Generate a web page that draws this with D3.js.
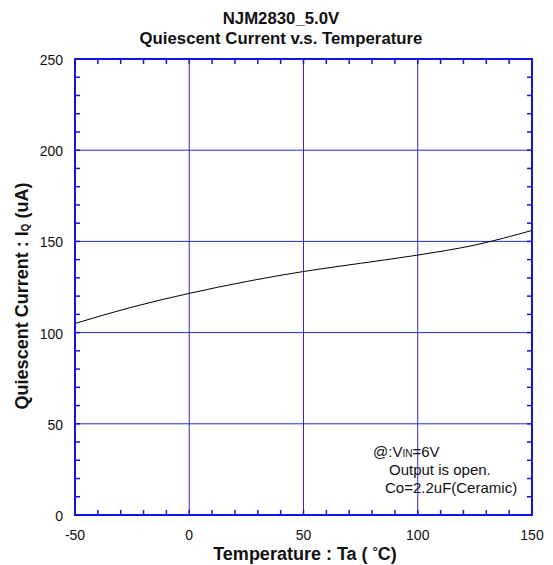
<!DOCTYPE html>
<html><head><meta charset="utf-8">
<script src="https://cdn.jsdelivr.net/npm/d3@7"></script>
<style>body{margin:0;background:#fff}svg{display:block}text{font-family:Arial,"Liberation Sans",sans-serif}</style>
</head><body>
<svg id="c" width="553" height="565"></svg>
<script>
const temps = [-50, -25, 0, 25, 50, 75, 100, 125, 150];
const iq = [105, 114, 121.5, 128, 133.5, 138, 142.5, 148, 156];
const xTicks = [-50, 0, 50, 100, 150];
const yTicks = [0, 50, 100, 150, 200, 250];
const titleLines = ["NJM2830_5.0V", "Quiescent Current v.s. Temperature"];

const svg = d3.select("#c");
const L = 75, R = 532, T = 59, B = 515;
const x = d3.scaleLinear().domain([-50, 150]).range([L, R]);
const y = d3.scaleLinear().domain([0, 250]).range([B, T]);
const blue = "#1414e0";

// gridlines
const g = svg.append("g");
g.selectAll(".vx").data(xTicks.slice(1, -1)).enter().append("line")
  .attr("x1", d => x(d)).attr("x2", d => x(d)).attr("y1", T).attr("y2", B)
  .attr("stroke", "#2a2ad0").attr("stroke-width", 1);
g.selectAll(".hy").data(yTicks.slice(1, -1)).enter().append("line")
  .attr("y1", d => y(d)).attr("y2", d => y(d)).attr("x1", L).attr("x2", R)
  .attr("stroke", "#2a2ad0").attr("stroke-width", 1);

// minor ticks (inward, all sides)
const xMinor = d3.range(-50, 151, 10);
const yMinor = d3.range(0, 251, 10);
const tl = 5;
xMinor.forEach(v => {
  g.append("line").attr("x1", x(v)).attr("x2", x(v)).attr("y1", B).attr("y2", B - tl).attr("stroke", blue).attr("stroke-width", 1.5);
  g.append("line").attr("x1", x(v)).attr("x2", x(v)).attr("y1", T).attr("y2", T + tl).attr("stroke", blue).attr("stroke-width", 1.5);
});
yMinor.forEach(v => {
  g.append("line").attr("y1", y(v)).attr("y2", y(v)).attr("x1", L).attr("x2", L + tl).attr("stroke", blue).attr("stroke-width", 1.5);
  g.append("line").attr("y1", y(v)).attr("y2", y(v)).attr("x1", R).attr("x2", R - tl).attr("stroke", blue).attr("stroke-width", 1.5);
});

// frame
svg.append("rect").attr("x", L).attr("y", T).attr("width", R - L).attr("height", B - T)
  .attr("fill", "none").attr("stroke", blue).attr("stroke-width", 2);

// data line
svg.append("path").datum(temps.map((t, i) => [t, iq[i]]))
  .attr("d", d3.line().x(d => x(d[0])).y(d => y(d[1])).curve(d3.curveMonotoneX))
  .attr("fill", "none").attr("stroke", "#000").attr("stroke-width", 1);

// tick labels
svg.selectAll(".xl").data(xTicks).enter().append("text")
  .attr("x", d => x(d)).attr("y", 540).attr("text-anchor", "middle")
  .attr("font-size", 14).attr("fill", "#111").text(d => d);
svg.selectAll(".yl").data(yTicks).enter().append("text")
  .attr("x", 63).attr("y", d => y(d) + 6).attr("text-anchor", "end")
  .attr("font-size", 14).attr("fill", "#111").text(d => d);

// title
svg.selectAll(".tt").data(titleLines).enter().append("text")
  .attr("x", 281).attr("y", (d, i) => 23.5 + i * 20).attr("text-anchor", "middle")
  .attr("font-size", 16.8).attr("font-weight", "bold").attr("fill", "#111").text(d => d);

// x axis title
const xt = svg.append("text").attr("x", 305).attr("y", 560).attr("text-anchor", "middle")
  .attr("font-size", 18).attr("font-weight", "bold").attr("fill", "#111");
xt.append("tspan").text("Temperature : Ta ( ");
xt.append("tspan").attr("dy", -4).attr("font-size", 13).text("°");
xt.append("tspan").attr("dy", 4).text("C)");

// y axis title
const yt = svg.append("text").attr("transform", "translate(28,296) rotate(-90)").attr("text-anchor", "middle")
  .attr("font-size", 18).attr("font-weight", "bold").attr("fill", "#111");
yt.append("tspan").text("Quiescent Current : I");
yt.append("tspan").attr("font-size", 10).attr("dy", 1).text("Q");
yt.append("tspan").attr("dy", -1).text(" (uA)");

// annotation
const a1 = svg.append("text").attr("x", 373).attr("y", 457).attr("font-size", 15).attr("fill", "#111");
a1.append("tspan").text("@:V");
a1.append("tspan").attr("font-size", 10).text("IN");
a1.append("tspan").text("=6V");
svg.append("text").attr("x", 389).attr("y", 475).attr("font-size", 15).attr("fill", "#111").text("Output is open.");
svg.append("text").attr("x", 385).attr("y", 493).attr("font-size", 15).attr("fill", "#111").text("Co=2.2uF(Ceramic)");
</script>
</body></html>
